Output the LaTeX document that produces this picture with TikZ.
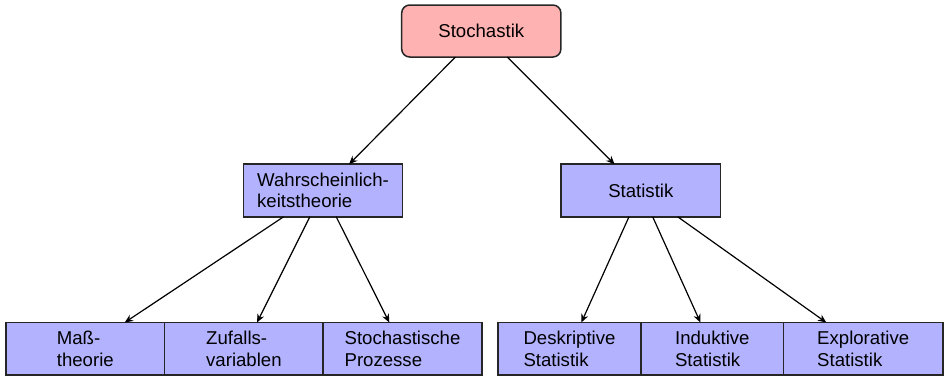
\documentclass[tikz,border=0pt]{standalone}
\usepackage{fontspec}
\setmainfont{Liberation Sans}
\usetikzlibrary{arrows.meta, positioning}
\definecolor{rootcolor}{RGB}{255, 178, 178}
\definecolor{topiccolor}{RGB}{178, 178, 255}

\begin{document}
\begin{tikzpicture}[
    x=0.5pt, y=-0.5pt,
    box/.style={draw=black!85, line width=0.75pt, fill=topiccolor,
                align=left, minimum height=26.3pt, inner sep=2pt,
                outer sep=0pt, font=\fontsize{9.3}{10.6}\selectfont},
    rootbox/.style={box, fill=rootcolor, rounded corners=4pt,
                    minimum width=79.6pt, minimum height=26pt},
    arr/.style={-{Stealth[length=4.2pt, width=3.6pt, inset=1.4pt]}, line width=0.6pt}
]
\useasboundingbox (0,0) rectangle (945,376);
% Root
\node[rootbox] (stoch) at (481.3,31) {Stochastik};
% Middle row
\node[box, minimum width=79.7pt] (wt) at (323,190.5) {Wahrscheinlich-\\keitstheorie};
\node[box, minimum width=79.8pt] (st) at (640.8,190.5) {Statistik};
% Bottom row, left
\node[box, minimum width=79.3pt] (w1) at (85.3,348.8) {Maß-\\theorie};
\node[box, minimum width=79.3pt, right=0pt of w1] (w2) {Zufalls-\\variablen};
\node[box, minimum width=79.3pt, right=0pt of w2] (w3) {Stochastische\\Prozesse};
% Bottom row, right
\node[box, minimum width=71.6pt] (s1) at (569.5,348.8) {Deskriptive\\Statistik};
\node[box, minimum width=71.2pt, right=0pt of s1] (s2) {Induktive\\Statistik};
\node[box, minimum width=79.7pt, right=0pt of s2] (s3) {Explorative\\Statistik};
% Edges
\draw[arr] (stoch) -- (wt);
\draw[arr] (stoch) -- (st);
\foreach \i in {1,2,3}
    \draw[arr] (wt) -- (w\i);
\foreach \i in {1,2,3}
    \draw[arr] (st) -- (s\i);
\end{tikzpicture}
\end{document}
